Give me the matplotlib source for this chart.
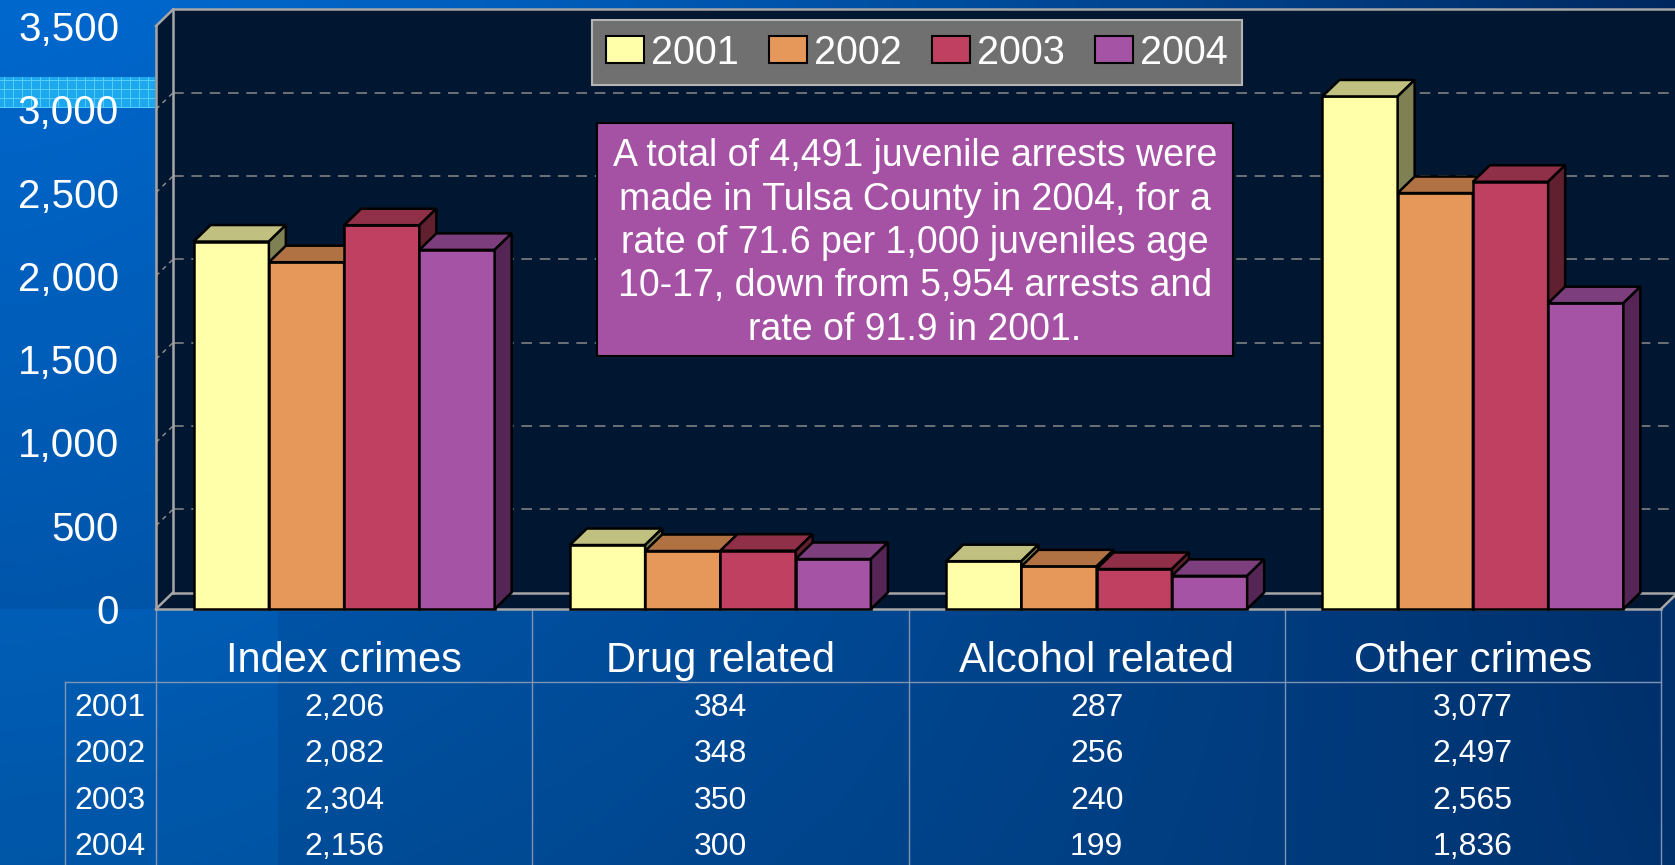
import numpy as np
import matplotlib
matplotlib.use("Agg")
import matplotlib.pyplot as plt
from matplotlib.lines import Line2D
from matplotlib.patches import Patch, Polygon, Rectangle
from matplotlib.transforms import blended_transform_factory

categories = ["Index crimes", "Drug related", "Alcohol related", "Other crimes"]
years = ["2001", "2002", "2003", "2004"]
arrests_2001 = [2206, 384, 287, 3077]
arrests_2002 = [2082, 348, 256, 2497]
arrests_2003 = [2304, 350, 240, 2565]
arrests_2004 = [2156, 300, 199, 1836]
arrests = [arrests_2001, arrests_2002, arrests_2003, arrests_2004]
y_ticks = [0, 500, 1000, 1500, 2000, 2500, 3000, 3500]

note = ("A total of 4,491 juvenile arrests were\n"
        "made in Tulsa County in 2004, for a\n"
        "rate of 71.6 per 1,000 juveniles age\n"
        "10-17, down from 5,954 arrests and\n"
        "rate of 91.9 in 2001.")

front_colors = ["#FFFFAA", "#E6975A", "#C04062", "#A553A5"]
top_colors = ["#C0C080", "#B07242", "#903048", "#7D3E7D"]
side_colors = ["#808055", "#8A5530", "#602030", "#552655"]

W, H = 1675, 865
plt.rcParams["font.family"] = ["Liberation Sans", "DejaVu Sans"]


def fx(px):
    return px / W


def fy(py):
    return 1 - py / H


fig = plt.figure(figsize=(W / 100, H / 100), dpi=100)

# slide background
u = np.linspace(0, 1, W)[None, :, None] ** 1.5
v = np.linspace(0, 1, H)[:, None, None]
tl, tr = np.array([0, 104, 206]), np.array([0, 40, 95])
bl, br = np.array([0, 78, 155]), np.array([0, 50, 110])
img = (1 - v) * ((1 - u) * tl + u * tr) + v * ((1 - u) * bl + u * br)
img[609:, :278] += np.array([0, 8, 12])
img[77:108, :155] = [28, 168, 238]
img[77:108, 4:155:9] = [90, 205, 255]
img[80:108:9, :155] = [90, 205, 255]
img = np.clip(img, 0, 255) / 255
bg = fig.add_axes([0, 0, 1, 1], zorder=-10)
bg.imshow(img, aspect="auto", interpolation="bilinear")
bg.axis("off")

ax = fig.add_axes([fx(156), fy(609), fx(1661) - fx(156), (609 - 26) / H])
ax.set_xlim(-0.5, 3.5)
ax.set_ylim(0, 3500)
ax.patch.set_visible(False)
for s in ax.spines.values():
    s.set_visible(False)
ax.set_xticks([])
ax.set_yticks(y_ticks)
ax.set_yticklabels([f"{t:,}" for t in y_ticks])
ax.tick_params(axis="y", length=0, labelsize=29, labelcolor="white", pad=26.5)

dx = 17 / (1505 / 4)
dy = 16.5 * 3500 / 583
x0, x1, ytop = -0.5, 3.5, 3500

# 3d box: fill, grid, edges
ax.add_patch(Polygon([(x0, 0), (x1, 0), (x1 + dx, dy), (x1 + dx, ytop + dy),
                      (x0 + dx, ytop + dy), (x0, ytop)],
                     closed=True, facecolor="#001631", edgecolor="none", zorder=0, clip_on=False))
for t in y_ticks[1:-1]:
    ax.plot([x0 + dx, x1 + dx], [t + dy, t + dy], color="#8a8a8a", lw=1.1,
            dashes=(7, 5), zorder=1, clip_on=False)
    ax.plot([x0, x0 + dx], [t, t + dy], color="#8a8a8a", lw=1.1,
            dashes=(3, 3), zorder=1, clip_on=False)
edge = dict(color="#a6a6a6", lw=1.8, zorder=2, clip_on=False, solid_capstyle="projecting")
ax.plot([x0, x0], [0, ytop], **edge)
ax.plot([x0, x0 + dx], [ytop, ytop + dy], **edge)
ax.plot([x0 + dx, x1 + dx], [ytop + dy, ytop + dy], **edge)
ax.plot([x0 + dx, x0 + dx], [dy, ytop + dy], **edge)
ax.plot([x0 + dx, x1 + dx], [dy, dy], **edge)
ax.plot([x0, x0 + dx], [0, dy], **edge)
ax.plot([x0, x1], [0, 0], **edge)
ax.plot([x1, x1 + dx], [0, dy], **edge)

# bars with top and side faces
bw = 0.2
for i, vals in enumerate(arrests):
    xs = np.arange(len(categories)) + (i - 1.5) * bw
    ax.bar(xs, vals, bw, color=front_colors[i], edgecolor="black", lw=1.8,
           zorder=3 + i, clip_on=False)
    for xc, val in zip(xs, vals):
        l, r = xc - bw / 2, xc + bw / 2
        ax.add_patch(Polygon([(l, val), (r, val), (r + dx, val + dy), (l + dx, val + dy)],
                             closed=True, facecolor=top_colors[i], edgecolor="black",
                             lw=1.8, zorder=3 + i, clip_on=False))
        ax.add_patch(Polygon([(r, 0), (r + dx, dy), (r + dx, val + dy), (r, val)],
                             closed=True, facecolor=side_colors[i], edgecolor="black",
                             lw=1.8, zorder=3 + i, clip_on=False))

# data table under the chart
trans = blended_transform_factory(ax.transData, fig.transFigure)
line_c = "#8094b4"
for xb in np.arange(len(categories) + 1) - 0.5:
    ax.plot([xb, xb], [fy(609), 0], transform=trans, color=line_c, lw=1.0, clip_on=False, zorder=1)
fig.add_artist(Line2D([fx(65), fx(1661)], [fy(682), fy(682)], color=line_c, lw=1.0))
fig.add_artist(Line2D([fx(65), fx(65)], [fy(682), 0], color=line_c, lw=1.0))

for i, cat in enumerate(categories):
    ax.text(i, fy(672), cat, transform=trans, ha="center", va="baseline",
            fontsize=30, color="white")

baselines = [716, 762, 809, 855]
for r, (year, vals) in enumerate(zip(years, arrests)):
    fig.text(fx(74), fy(baselines[r]), year, ha="left", va="baseline", fontsize=23, color="white")
    for i, val in enumerate(vals):
        ax.text(i, fy(baselines[r]), f"{val:,}", transform=trans, ha="center",
                va="baseline", fontsize=23, color="white")

# legend
handles = [Patch(facecolor=c, edgecolor="black", lw=1.5) for c in front_colors]
leg = fig.legend(handles, years, loc="center", bbox_to_anchor=(fx(917), fy(52.5)),
                 ncol=4, fontsize=28.5, handlelength=0.96, handleheight=0.66,
                 handletextpad=0.18, columnspacing=0.76, borderpad=0.35,
                 fancybox=False, facecolor="#707070", edgecolor="#b4b4b4",
                 framealpha=1, labelcolor="white")
leg.get_frame().set_linewidth(1.5)

# annotation box
fig.add_artist(Rectangle((fx(597), fy(356)), fx(1233) - fx(597), (356 - 123) / H,
                         transform=fig.transFigure, facecolor="#A552A5",
                         edgecolor="black", lw=1.5, zorder=5))
fig.text(fx(915), fy(243), note, ha="center", va="center", multialignment="center",
         fontsize=27, linespacing=1.26, color="white", zorder=6)

fig.savefig("out.png", dpi=100)
plt.close(fig)
